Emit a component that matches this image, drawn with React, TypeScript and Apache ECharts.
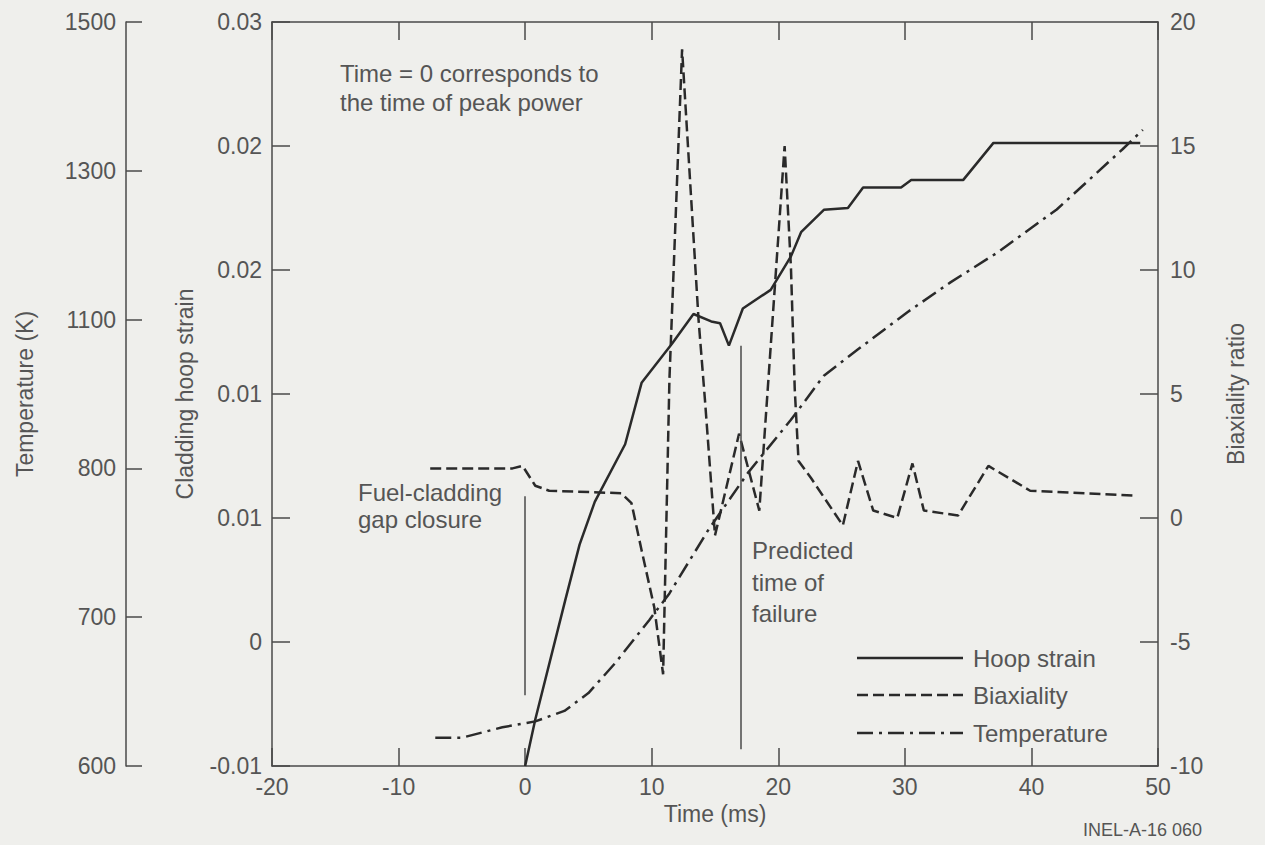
import React, { useEffect, useRef } from "react";
import * as echarts from "echarts";

// ---------- data ----------
const TIME_MIN = -20;
const TIME_MAX = 50;
const TIME_STEP = 10;

const STRAIN_LABELS = ["-0.01", "0", "0.01", "0.01", "0.02", "0.02", "0.03"];
const STRAIN_MIN = -0.01;
const STRAIN_MAX = 0.03;

const TEMP_TICKS = [600, 700, 800, 1100, 1300, 1500];

const BIAX_MIN = -10;
const BIAX_MAX = 20;
const BIAX_STEP = 5;

// Hoop strain (solid)
const TIME_HOOP = [0, 0.8, 3.2, 4.3, 5.5, 7.9, 9.2, 11.6, 13.3, 14.7, 15.4, 16.1, 17.2, 19.4, 21.0, 21.8, 23.6, 25.5, 26.7, 29.7, 30.5, 34.6, 37.0, 48.6];
const HOOP = [-0.01, -0.0075, -0.001, 0.0019, 0.0042, 0.0073, 0.0106, 0.0127, 0.0143, 0.0139, 0.0138, 0.0126, 0.0146, 0.0156, 0.0174, 0.0187, 0.0199, 0.02, 0.0211, 0.0211, 0.0215, 0.0215, 0.0235, 0.0235];

// Biaxiality ratio (dashed)
const TIME_BIAX = [-7.5, -1.0, -0.2, 0.8, 1.9, 7.6, 8.4, 9.2, 10.2, 10.9, 11.4, 12.4, 12.6, 13.7, 14.2, 15.0, 16.9, 18.5, 20.5, 21.0, 21.3, 21.6, 22.6, 25.1, 26.3, 27.5, 29.4, 30.6, 31.5, 34.2, 36.6, 39.9, 48.3];
const BIAX = [2.0, 2.0, 2.1, 1.3, 1.1, 1.0, 0.6, -1.3, -3.6, -6.3, 5.6, 18.9, 17.2, 8.0, 4.8, -0.7, 3.4, 0.3, 15.0, 10.1, 5.2, 2.3, 1.6, -0.3, 2.3, 0.3, 0.0, 2.2, 0.3, 0.1, 2.1, 1.1, 0.9];

// Temperature in K (dash-dot)
const TIME_TEMP = [-7.1, -5.0, -1.8, 0.8, 3.1, 5.0, 7.1, 9.8, 11.4, 14.5, 17.6, 21.0, 23.6, 26.3, 30.2, 33.6, 37.3, 42.0, 47.2, 48.8];
const TEMP_K = [619, 619, 626, 630, 637, 649, 669, 698, 716, 759, 797, 898, 987, 1040, 1110, 1150, 1190, 1248, 1329, 1355];

// Annotation markers (time of vertical lines, strain extent)
const GAP_CLOSURE = { t: 0, from: 0.0045, to: -0.0062 };
const FAILURE = { t: 17.0, from: 0.0126, to: -0.0091 };

// ---------- styles ----------
const BG = "#efefec";
const INK = "#2a2a2a";
const AXIS = "#4a4a4a";
const TXT = "#555555";
const FONT = "Liberation Sans";

// The temperature axis of the figure has evenly spaced ticks labelled 600..1500;
// values are placed by interpolating between those tick labels.
function tempToPos(k: number): number {
  for (let i = 0; i < TEMP_TICKS.length - 1; i++) {
    const a = TEMP_TICKS[i];
    const b = TEMP_TICKS[i + 1];
    if (k <= b || i === TEMP_TICKS.length - 2) {
      return i + (k - a) / (b - a);
    }
  }
  return 0;
}

const STRAIN_STEP = (STRAIN_MAX - STRAIN_MIN) / (STRAIN_LABELS.length - 1);
const STRAIN_VALUES = STRAIN_LABELS.map((_, i) => STRAIN_MIN + i * STRAIN_STEP);

export default function App() {
  const ref = useRef<HTMLDivElement>(null);

  useEffect(() => {
    document.body.style.margin = "0";
    document.body.style.background = BG;
    const chart = echarts.init(ref.current!, null, { renderer: "svg" });

    const tick = (len: number) => ({
      show: true,
      inside: true,
      length: len,
      lineStyle: { color: AXIS, width: 1.5 },
    });
    const line = { show: true, onZero: false, lineStyle: { color: AXIS, width: 1.5 } };
    const label = (margin: number) => ({
      color: TXT,
      fontSize: 23,
      fontFamily: FONT,
      margin,
    });
    const nameStyle = { color: TXT, fontSize: 23, fontFamily: FONT };

    const textEl = (text: string, x: number, y: number, size = 24) => ({
      type: "text",
      x,
      y,
      silent: true,
      style: {
        text,
        fill: TXT,
        font: `${size}px "${FONT}"`,
        align: "left",
        verticalAlign: "middle",
      },
    });
    const legendLine = (y: number, dash: number[] | null, label: string) => [
      {
        type: "line",
        silent: true,
        shape: { x1: 857, y1: y, x2: 963, y2: y },
        style: { stroke: INK, lineWidth: 2.5, lineDash: dash || undefined },
      },
      textEl(label, 973, y),
    ];

    const option: any = {
      animation: false,
      backgroundColor: BG,
      textStyle: { fontFamily: FONT },
      grid: { left: 272, right: 107, top: 22, bottom: 79, containLabel: false },
      xAxis: [
        {
          type: "value",
          min: TIME_MIN,
          max: TIME_MAX,
          interval: TIME_STEP,
          position: "bottom",
          name: "Time (ms)",
          nameLocation: "middle",
          nameGap: 34,
          nameTextStyle: nameStyle,
          axisLine: line,
          axisTick: tick(18),
          axisLabel: label(9),
          splitLine: { show: false },
        },
        {
          type: "value",
          min: TIME_MIN,
          max: TIME_MAX,
          interval: TIME_STEP,
          position: "top",
          axisLine: line,
          axisTick: tick(18),
          axisLabel: { show: false },
          splitLine: { show: false },
        },
      ],
      yAxis: [
        {
          type: "value",
          min: STRAIN_MIN,
          max: STRAIN_MAX,
          position: "left",
          name: "Cladding hoop strain",
          nameLocation: "middle",
          nameRotate: 90,
          nameGap: 76,
          nameTextStyle: nameStyle,
          axisLine: line,
          axisTick: { ...tick(18), customValues: STRAIN_VALUES },
          axisLabel: {
            ...label(10),
            customValues: STRAIN_VALUES,
            formatter: (v: number) => STRAIN_LABELS[Math.round((v - STRAIN_MIN) / STRAIN_STEP)] ?? "",
          },
          splitLine: { show: false },
        },
        {
          type: "value",
          min: 0,
          max: TEMP_TICKS.length - 1,
          interval: 1,
          position: "left",
          offset: 146,
          name: "Temperature (K)",
          nameLocation: "middle",
          nameRotate: 90,
          nameGap: 90,
          nameTextStyle: nameStyle,
          axisLine: line,
          axisTick: tick(16),
          axisLabel: {
            ...label(10),
            formatter: (v: number) => String(TEMP_TICKS[Math.round(v)] ?? ""),
          },
          splitLine: { show: false },
        },
        {
          type: "value",
          min: BIAX_MIN,
          max: BIAX_MAX,
          interval: BIAX_STEP,
          position: "right",
          name: "Biaxiality ratio",
          nameLocation: "middle",
          nameRotate: 90,
          nameGap: 66,
          nameTextStyle: nameStyle,
          axisLine: line,
          axisTick: tick(18),
          axisLabel: label(12),
          splitLine: { show: false },
        },
      ],
      series: [
        {
          name: "Hoop strain",
          type: "line",
          xAxisIndex: 0,
          yAxisIndex: 0,
          data: TIME_HOOP.map((t, i) => [t, HOOP[i]]),
          showSymbol: false,
          symbol: "none",
          lineStyle: { color: INK, width: 2.5, type: "solid" },
          markLine: {
            silent: true,
            symbol: ["none", "none"],
            label: { show: false },
            lineStyle: { color: AXIS, width: 1.5, type: "solid" },
            data: [
              [
                { coord: [GAP_CLOSURE.t, GAP_CLOSURE.from] },
                { coord: [GAP_CLOSURE.t, GAP_CLOSURE.to] },
              ],
              [
                { coord: [FAILURE.t, FAILURE.from] },
                { coord: [FAILURE.t, FAILURE.to] },
              ],
            ],
          },
        },
        {
          name: "Biaxiality",
          type: "line",
          xAxisIndex: 0,
          yAxisIndex: 2,
          data: TIME_BIAX.map((t, i) => [t, BIAX[i]]),
          showSymbol: false,
          symbol: "none",
          lineStyle: { color: INK, width: 2.5, type: [11, 5] },
        },
        {
          name: "Temperature",
          type: "line",
          xAxisIndex: 0,
          yAxisIndex: 1,
          data: TIME_TEMP.map((t, i) => [t, tempToPos(TEMP_K[i])]),
          showSymbol: false,
          symbol: "none",
          lineStyle: { color: INK, width: 2.5, type: [16, 6, 3, 6] },
        },
      ],
      graphic: [
        textEl("Time = 0 corresponds to", 340, 73),
        textEl("the time of peak power", 340, 102),
        textEl("Fuel-cladding", 358, 492),
        textEl("gap closure", 358, 519),
        textEl("Predicted", 752, 550),
        textEl("time of", 752, 582),
        textEl("failure", 752, 613),
        ...legendLine(658, null, "Hoop strain"),
        ...legendLine(695, [11, 5], "Biaxiality"),
        ...legendLine(733, [16, 6, 3, 6], "Temperature"),
        textEl("INEL-A-16 060", 1083, 830, 18),
      ],
    };

    chart.setOption(option);
    return () => chart.dispose();
  }, []);

  return <div ref={ref} style={{ width: 1265, height: 845 }} />;
}
